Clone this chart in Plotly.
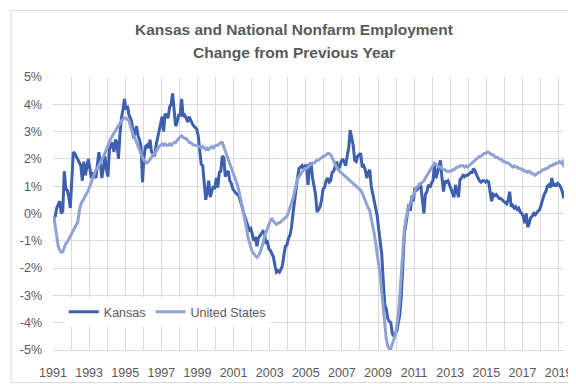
import plotly.graph_objects as go

# Monthly year-over-year change (%), Jan 1991 - Apr 2019
kansas = [
    -0.2, -0.1, 0.2, 0.35, 0.45, 0.0, 0.1, 1.55, 0.9, 0.85, 0.6, 0.2,          # 1991
    1.2, 2.25, 2.2, 2.1, 2.0, 1.9, 1.75, 1.2, 1.9, 1.4, 1.7, 2.0,              # 1992
    1.65, 1.3, 1.5, 1.4, 1.3, 1.8, 2.25, 1.8, 1.3, 1.7, 2.1, 1.6,              # 1993
    1.35, 2.35, 2.5, 2.6, 2.25, 2.7, 2.6, 2.0, 2.9, 3.5, 3.8, 4.2,             # 1994
    3.8, 3.95, 3.6, 3.5, 3.3, 2.75, 3.0, 3.2, 2.85, 2.7, 2.45, 1.15,           # 1995
    2.1, 2.45, 2.5, 2.4, 2.7, 2.25, 2.2, 2.1, 2.5, 2.75, 3.0, 3.3,             # 1996
    3.55, 3.0, 3.65, 3.6, 3.5, 3.9, 4.0, 4.4, 3.7, 3.2, 3.35, 3.6,             # 1997
    3.6, 4.2, 3.55, 3.6, 3.5, 3.35, 3.55, 3.4, 3.3, 3.2, 3.15, 3.1,            # 1998
    2.85, 2.3, 1.8, 1.75, 1.2, 0.5, 0.8, 1.2, 0.6, 0.85, 1.0, 0.9,             # 1999
    1.3, 0.95, 1.5, 1.55, 2.1, 2.05, 1.35, 1.5, 1.55, 1.2, 1.1, 0.9,           # 2000
    0.8, 0.75, 0.7, 0.65, 0.45, 0.3, 0.05, -0.1, -0.25, -0.4, -0.6, -0.55,     # 2001
    -0.8, -1.0, -0.85, -1.2, -0.9, -0.8, -0.75, -0.65, -0.7, -1.1, -1.05, -1.3,  # 2002
    -1.35, -1.5, -1.6, -1.9, -2.15, -2.1, -2.15, -2.05, -1.9, -1.5, -1.2, -1.15,  # 2003
    -0.9, -0.8, -0.5, 0.0, 0.5, 0.95, 1.3, 1.65, 1.7, 1.75, 1.6, 1.75,         # 2004
    1.75, 1.05, 1.8, 1.85, 1.3, 1.0, 0.7, 0.05, 0.15, 0.25, 0.5, 0.9,          # 2005
    0.95, 1.2, 1.3, 1.15, 1.2, 1.5, 1.55, 1.75, 1.9, 1.65, 1.7, 1.9,           # 2006
    2.0, 1.9, 1.75, 2.1, 2.4, 3.05, 2.7, 2.5, 1.95, 1.9, 2.1, 2.15,            # 2007
    2.2, 1.7, 1.75, 1.6, 1.3, 1.5, 1.6, 1.0, 0.7, 0.4, 0.2, -0.1,              # 2008
    -0.6, -1.0, -1.5, -2.5, -3.35, -3.5, -3.85, -3.95, -4.0, -4.4, -4.5, -4.4,  # 2009
    -4.3, -4.0, -3.7, -3.0, -2.0, -0.75, -0.4, 0.0, 0.35, 0.1, 0.65, 0.45,     # 2010
    0.95, 0.85, 0.9, 1.05, 1.0, 0.5, 0.0, 0.7, 0.8, 1.05, 0.95, 1.1,           # 2011
    1.2, 1.75, 1.3, 1.5, 1.7, 1.95, 1.3, 0.8, 1.2, 1.15, 1.2, 1.05,            # 2012
    0.95, 0.8, 0.6, 1.05, 0.85, 0.6, 1.25, 1.3, 1.4, 1.35, 1.4, 1.4,           # 2013
    1.45, 1.5, 1.5, 1.65, 1.55, 1.4, 1.3, 1.2, 1.15, 1.2, 1.2, 1.15,           # 2014
    1.2, 1.15, 0.75, 0.45, 0.7, 0.65, 0.7, 0.6, 0.55, 0.55, 0.5, 0.45,         # 2015
    0.4, 0.35, 0.5, 0.8, 0.25, 0.3, 0.2, 0.25, 0.15, 0.2, 0.05, 0.0,           # 2016
    -0.1, -0.35, 0.0, -0.5, -0.35, -0.15, -0.1, 0.0, -0.05, 0.05, 0.1, 0.15,   # 2017
    0.35, 0.5, 0.7, 0.8, 1.0, 1.05, 0.95, 1.3, 1.0, 1.1, 1.0, 1.1,             # 2018
    1.05, 0.95, 0.8, 0.55,                                                     # 2019
]

united_states = [
    -0.1, -0.5, -0.9, -1.2, -1.35, -1.42, -1.4, -1.25, -1.1, -1.05, -0.95, -0.85,  # 1991
    -0.75, -0.65, -0.55, -0.4, -0.3, 0.1, 0.35, 0.45, 0.55, 0.6, 0.7, 0.85,    # 1992
    1.0, 1.15, 1.3, 1.5, 1.6, 1.65, 1.75, 1.85, 2.0, 2.1, 2.2, 2.35,           # 1993
    2.5, 2.65, 2.75, 2.85, 2.95, 3.0, 3.1, 3.2, 3.3, 3.4, 3.45, 3.5,           # 1994
    3.5, 3.45, 3.4, 3.2, 3.0, 2.85, 2.75, 2.6, 2.5, 2.35, 2.2, 2.05,           # 1995
    1.95, 1.9, 1.85, 1.9, 2.0, 2.1, 2.15, 2.2, 2.3, 2.4, 2.45, 2.5,            # 1996
    2.55, 2.5, 2.55, 2.5, 2.5, 2.55, 2.5, 2.55, 2.6, 2.6, 2.7, 2.75,           # 1997
    2.8, 2.85, 2.8, 2.75, 2.75, 2.65, 2.6, 2.6, 2.55, 2.5, 2.5, 2.5,           # 1998
    2.45, 2.45, 2.4, 2.45, 2.4, 2.35, 2.4, 2.35, 2.4, 2.45, 2.4, 2.45,         # 1999
    2.5, 2.5, 2.55, 2.6, 2.6, 2.45, 2.3, 2.1, 1.95, 1.8, 1.65, 1.5,            # 2000
    1.35, 1.2, 1.05, 0.85, 0.6, 0.35, 0.05, -0.25, -0.5, -0.85, -1.1, -1.25,   # 2001
    -1.4, -1.5, -1.55, -1.6, -1.55, -1.45, -1.3, -1.1, -0.85, -0.7, -0.5, -0.35,  # 2002
    -0.25, -0.2, -0.3, -0.35, -0.4, -0.35, -0.35, -0.3, -0.25, -0.2, -0.15, -0.1,  # 2003
    0.05, 0.2, 0.35, 0.55, 0.8, 1.05, 1.25, 1.35, 1.45, 1.55, 1.6, 1.65,       # 2004
    1.65, 1.7, 1.75, 1.8, 1.85, 1.85, 1.9, 1.95, 1.95, 2.0, 2.05, 2.1,         # 2005
    2.1, 2.15, 2.2, 2.2, 2.15, 2.05, 1.9, 1.8, 1.7, 1.6, 1.55, 1.5,            # 2006
    1.45, 1.4, 1.35, 1.3, 1.25, 1.2, 1.15, 1.1, 1.05, 1.0, 0.95, 0.9,          # 2007
    0.85, 0.75, 0.6, 0.5, 0.35, 0.2, 0.1, -0.15, -0.45, -0.75, -1.1, -1.5,     # 2008
    -1.8, -2.3, -2.9, -3.5, -4.2, -4.6, -4.85, -4.95, -4.95, -4.8, -4.65, -4.45,  # 2009
    -4.1, -3.7, -3.0, -2.2, -1.2, -0.6, -0.2, 0.05, 0.25, 0.4, 0.55, 0.7,      # 2010
    0.85, 0.95, 1.0, 1.05, 1.1, 1.15, 1.2, 1.3, 1.4, 1.5, 1.6, 1.7,            # 2011
    1.8, 1.85, 1.8, 1.75, 1.7, 1.7, 1.65, 1.6, 1.6, 1.55, 1.55, 1.55,          # 2012
    1.55, 1.6, 1.6, 1.65, 1.7, 1.7, 1.75, 1.75, 1.75, 1.7, 1.75, 1.7,          # 2013
    1.75, 1.8, 1.85, 1.9, 1.95, 2.0, 2.05, 2.1, 2.1, 2.15, 2.2, 2.2,           # 2014
    2.25, 2.25, 2.2, 2.15, 2.15, 2.1, 2.05, 2.05, 2.0, 2.0, 1.95, 1.9,         # 2015
    1.9, 1.85, 1.85, 1.8, 1.75, 1.7, 1.75, 1.7, 1.7, 1.65, 1.65, 1.6,          # 2016
    1.6, 1.55, 1.55, 1.5, 1.55, 1.5, 1.45, 1.45, 1.4, 1.45, 1.5, 1.5,          # 2017
    1.55, 1.6, 1.6, 1.65, 1.65, 1.7, 1.75, 1.75, 1.8, 1.8, 1.85, 1.85,         # 2018
    1.9, 1.85, 1.9, 1.7,                                                       # 2019
]

start_year = 1991
years = list(range(1991, 2020))
year_labels = [str(y) if (y - 1991) % 2 == 0 else "" for y in years]
pct_ticks = [5, 4, 3, 2, 1, 0, -1, -2, -3, -4, -5]
pct_labels = [f"{v}%" for v in pct_ticks]
title_lines = ["Kansas and National Nonfarm Employment", "Change from Previous Year"]

# month midpoints in fractional years
x_months = [start_year + (i + 0.5) / 12 for i in range(len(kansas))]

FONT = "Liberation Sans, Arial, sans-serif"
GREY = "#595959"
GRID = "#D9D9D9"
TICK = 12.5

fig = go.Figure()
fig.add_trace(go.Scatter(x=x_months, y=kansas, mode="lines", name="Kansas",
                         line=dict(color="#3D5FAD", width=3)))
fig.add_trace(go.Scatter(x=x_months, y=united_states, mode="lines", name="United States",
                         line=dict(color="#8FA2D3", width=3)))

L, R, T, B = 43, 14, 69, 34
W, H = 576, 384
pw, ph = W - L - R, H - T - B

annotations = []
for txt, ypx in zip(title_lines, [20, 44]):
    annotations.append(dict(text=f"<b>{txt}</b>", xref="paper", yref="paper",
                            x=(W / 2 - L) / pw, y=(H - B - ypx) / ph,
                            xanchor="center", yanchor="middle", showarrow=False,
                            font=dict(family=FONT, size=15.5, color=GREY)))

fig.update_layout(
    width=W, height=H,
    margin=dict(l=L, r=R, t=T, b=B, pad=0),
    paper_bgcolor="white", plot_bgcolor="white",
    font=dict(family=FONT, color=GREY, size=TICK),
    showlegend=True,
    legend=dict(orientation="h", x=(54 - L) / pw, xanchor="left",
                y=(H - B - 311) / ph, yanchor="middle",
                bgcolor="white", font=dict(family=FONT, size=TICK, color=GREY),
                itemwidth=30, tracegroupgap=0),
    xaxis=dict(range=[1991, 2019.3], tickmode="array", tickvals=years, ticktext=year_labels,
               showgrid=True, gridcolor=GRID, gridwidth=1, zeroline=False,
               showline=True, linecolor=GRID, linewidth=1, ticks="",
               ticklabelstandoff=11, tickfont=dict(family=FONT, size=TICK, color=GREY)),
    yaxis=dict(range=[-5, 5], tickmode="array", tickvals=pct_ticks, ticktext=pct_labels,
               showgrid=True, gridcolor=GRID, gridwidth=1, zeroline=False,
               showline=False, ticks="", ticklabelstandoff=10,
               tickfont=dict(family=FONT, size=TICK, color=GREY)),
    annotations=annotations,
    shapes=[dict(type="rect", xref="paper", yref="paper",
                 x0=(-L + 0.5) / pw, x1=1 + (R - 0.5) / pw,
                 y0=(-B + 0.5) / ph, y1=1 + (T - 0.5) / ph,
                 line=dict(color=GRID, width=1), fillcolor="rgba(0,0,0,0)", layer="below")],
)

fig.write_html("out.html")
